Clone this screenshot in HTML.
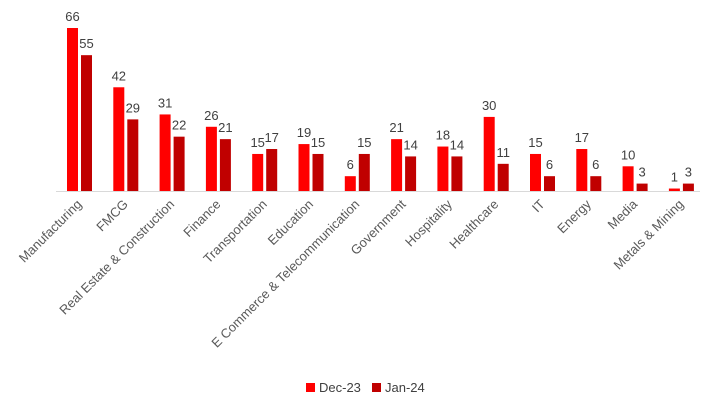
<!DOCTYPE html>
<html><head><meta charset="utf-8"><style>
body{margin:0;background:#fff;}
svg{display:block;font-family:"Liberation Sans",sans-serif;}
</style></head><body>
<svg id="chart" width="722" height="414">
<line x1="56" y1="191.5" x2="700" y2="191.5" stroke="#d9d9d9" stroke-width="1"/>
<g id="bars"></g>
<g id="legend">
<rect x="306" y="383" width="9" height="9" fill="#ff0000"/>
<text x="319" y="392" font-size="13" fill="#404040">Dec-23</text>
<rect x="372" y="383" width="9" height="9" fill="#c00000"/>
<text x="385" y="392" font-size="13" fill="#404040">Jan-24</text>
</g>
</svg>
<script>
const categories = ["Manufacturing","FMCG","Real Estate & Construction","Finance","Transportation","Education","E Commerce & Telecommunication","Government","Hospitality","Healthcare","IT","Energy","Media","Metals & Mining"];
const dec23 = [66,42,31,26,15,19,6,21,18,30,15,17,10,1];
const jan24 = [55,29,22,21,17,15,15,14,14,11,6,6,3,3];

const NS = "http://www.w3.org/2000/svg";
const baseY = 191;
const pxPerUnit = 163/66;
const xCenter = i => 79.5 + i*46.3;
const yScale = v => baseY - v*pxPerUnit;
const g = document.getElementById('bars');
function mk(tag, attrs){const e=document.createElementNS(NS,tag);for(const k in attrs)e.setAttribute(k,attrs[k]);return e;}
categories.forEach((cat,i)=>{
  const c = xCenter(i);
  [[dec23,"#ff0000",-12.5,"dec23"],[jan24,"#c00000",1.5,"jan24"]].forEach(([arr,col,off,key])=>{
    const v = arr[i], y = yScale(v);
    const r = mk('rect',{x:c+off,y:y,width:11,height:baseY-y,fill:col});
    
    
    g.appendChild(r);
    const t = mk('text',{x:c+off+5.5,y:y-7,'text-anchor':'middle','font-size':13,fill:'#404040'});
    t.textContent = v;
    
    
    g.appendChild(t);
  });
  const lx = c+3, ly = 205;
  const l = mk('text',{x:lx,y:ly,'text-anchor':'end','font-size':13,fill:'#595959',transform:`rotate(-45 ${lx} ${ly})`});
  l.textContent = cat;
  
  
  g.appendChild(l);
});
</script>
</body></html>
